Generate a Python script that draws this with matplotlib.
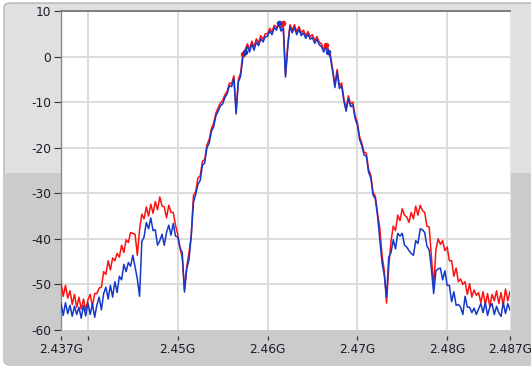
import matplotlib
matplotlib.use("Agg")
import matplotlib.pyplot as plt
import numpy as np
from matplotlib.patches import FancyBboxPatch, Rectangle

plt.rcParams["axes.unicode_minus"] = False
plt.rcParams["font.family"] = "DejaVu Sans"

# sweep: 2.437 GHz .. 2.487 GHz, one bin every 0.25 MHz
F_START = 2.437e9
F_STOP = 2.487e9
N_BINS = 201

# one row per MHz (4 bins each), last value is 2.487 GHz
BLUE_DB = [
    -54.2, -56.8, -54.0, -56.4,
    -54.6, -57.0, -54.8, -56.6,
    -55.0, -57.4, -54.6, -56.9,
    -54.1, -56.6, -54.3, -57.2,
    -54.5, -52.8, -55.6, -52.0,
    -50.6, -53.2, -50.2, -52.8,
    -49.4, -51.8, -48.2, -49.0,
    -45.6, -47.2, -45.2, -46.0,
    -43.6, -46.2, -48.8, -52.6,
    -40.6, -39.6, -36.4, -37.8,
    -35.4, -38.2, -38.0, -41.4,
    -40.4, -39.0, -41.4, -38.6,
    -37.0, -39.2, -36.6, -39.4,
    -39.6, -42.0, -43.0, -51.7,
    -46.5, -44.6, -39.4, -32.0,
    -30.2, -28.0, -27.2, -23.8,
    -23.4, -20.0, -19.0, -16.4,
    -15.4, -13.0, -12.0, -10.8,
    -10.4, -9.0, -8.2, -6.4,
    -6.6, -4.8, -12.6, -5.6,
    -4.3, -0.2, 0.9, 2.2,
    1.0, 2.8, 1.4, 3.2,
    2.4, 3.9, 3.2, 4.4,
    4.4, 5.6, 4.8, 6.4,
    5.8, 7.3, 5.6, 6.2,
    -4.5, 2.0, 6.6, 5.2,
    6.4, 4.8, 6.0, 4.6,
    5.2, 4.0, 4.9, 3.8,
    4.2, 2.9, 3.8, 2.6,
    2.2, 1.0, 1.9, 1.1,
    -0.2, -3.3, -6.8, -3.4,
    -7.0, -6.4, -9.8, -12.0,
    -9.2, -11.0, -10.6, -13.6,
    -15.0, -18.2, -19.6, -21.6,
    -21.8, -25.4, -26.6, -30.4,
    -31.2, -35.0, -40.2, -45.2,
    -48.0, -52.8, -44.0, -43.0,
    -40.2, -42.2, -38.8, -39.4,
    -38.8, -41.4, -41.8, -42.6,
    -43.2, -43.6, -40.4, -41.0,
    -37.8, -38.0, -38.6, -41.6,
    -42.4, -46.6, -52.0, -47.0,
    -46.6, -46.4, -49.0, -47.0,
    -50.2, -50.2, -53.8, -51.6,
    -54.6, -54.4, -55.0, -56.6,
    -52.6, -55.0, -55.0, -56.2,
    -55.2, -56.6, -55.4, -54.2,
    -56.2, -54.0, -56.8, -55.0,
    -54.2, -56.6, -54.8, -56.2,
    -57.0, -54.0, -56.4, -54.2,
    -55.6,
]

RED_DB = [
    -49.6, -52.6, -50.2, -53.0,
    -51.4, -54.4, -52.2, -55.0,
    -52.8, -55.4, -53.2, -55.6,
    -53.4, -52.2, -54.8, -52.0,
    -52.0, -50.8, -50.6, -47.2,
    -47.8, -44.8, -46.8, -44.2,
    -44.8, -43.2, -44.0, -41.4,
    -43.0, -40.2, -40.8, -38.6,
    -38.8, -39.0, -43.6, -38.0,
    -34.6, -35.6, -33.0, -35.0,
    -32.4, -34.4, -31.8, -33.6,
    -30.8, -32.8, -33.0, -35.4,
    -32.6, -34.2, -34.2, -37.0,
    -39.0, -42.0, -44.2, -51.2,
    -46.1, -43.0, -39.5, -30.5,
    -29.6, -26.6, -26.2, -23.0,
    -22.6, -19.4, -18.2, -15.8,
    -14.6, -12.4, -11.2, -10.2,
    -9.6, -8.4, -7.6, -5.8,
    -6.0, -4.2, -12.0, -5.0,
    -3.6, 0.5, 1.5, 2.8,
    1.6, 3.4, 2.0, 3.9,
    3.0, 4.6, 3.8, 5.0,
    5.0, 6.2, 5.4, 6.9,
    6.4, 7.0, 6.2, 7.3,
    -4.0, 2.6, 7.0, 5.8,
    7.0, 5.4, 6.6, 5.2,
    5.8, 4.6, 5.5, 4.4,
    4.8, 3.5, 4.4, 3.2,
    2.8, 1.6, 2.5, 1.7,
    0.4, -2.8, -6.2, -2.8,
    -6.4, -5.8, -9.2, -11.5,
    -8.6, -10.4, -10.0, -13.0,
    -14.4, -17.6, -19.0, -21.0,
    -21.2, -24.8, -26.0, -29.8,
    -30.6, -34.4, -37.6, -43.6,
    -47.0, -54.1, -46.0, -40.6,
    -37.2, -38.2, -34.8, -36.0,
    -33.4, -34.8, -35.2, -36.4,
    -34.2, -35.6, -32.8, -34.8,
    -32.6, -33.8, -34.2, -37.2,
    -37.4, -44.0, -50.5, -42.4,
    -40.0, -41.2, -40.4, -42.6,
    -41.8, -44.8, -44.8, -48.2,
    -46.4, -49.4, -48.8, -50.0,
    -49.4, -52.2, -49.8, -52.8,
    -51.2, -52.4, -51.8, -54.0,
    -51.6, -54.4, -52.0, -54.8,
    -52.2, -53.6, -51.4, -54.2,
    -51.8, -54.6, -51.0, -53.6,
    -51.6,
]

# bins where the graph shows the bigger dots
BLUE_DOTS = [82, 97, 119]
RED_DOTS = [81, 99, 118]

X_TICKS = [2.437e9, 2.44e9, 2.45e9, 2.46e9, 2.47e9, 2.48e9, 2.487e9]
X_LABELS = ["2.437G", "", "2.45G", "2.46G", "2.47G", "2.48G", "2.487G"]
X_GRID = [2.44e9, 2.45e9, 2.46e9, 2.47e9, 2.48e9]
Y_TICKS = [10, 0, -10, -20, -30, -40, -50, -60]

assert len(BLUE_DB) == N_BINS and len(RED_DB) == N_BINS

freq = np.linspace(F_START, F_STOP, N_BINS)

W, H = 531, 367
fig = plt.figure(figsize=(W / 100, H / 100), dpi=100)
fig.patch.set_facecolor("white")

# panel frame with the two-tone background (behind the axes)
frame = FancyBboxPatch(
    (4 / W, 2 / H), 1.05 - 4 / W, 1 - 5 / H,
    boxstyle="round,pad=0,rounding_size=0.012",
    transform=fig.transFigure, facecolor="#e0e0e0",
    edgecolor="#a4a4a4", linewidth=0.8, zorder=-3,
)
fig.patches.append(frame)
lower = Rectangle((0, 0), 1, 1 - 173 / H, transform=fig.transFigure,
                  facecolor="#cbcbcb", edgecolor="none", zorder=-2)
lower.set_clip_path(frame)
fig.patches.append(lower)

ax = fig.add_axes([61 / W, 1 - 330 / H, (510 - 61) / W, (330 - 11) / H])
ax.set_facecolor("white")

ax.plot(freq, RED_DB, color="#ff1010", linewidth=1.1, zorder=3,
        marker="o", markevery=RED_DOTS, markersize=4, markeredgewidth=0)
ax.plot(freq, BLUE_DB, color="#1538c8", linewidth=1.1, zorder=4,
        marker="o", markevery=BLUE_DOTS, markersize=4, markeredgewidth=0)

ax.set_xlim(F_START, F_STOP)
ax.set_ylim(-60, 10)

for gx in X_GRID:
    ax.axvline(gx, color="#dcdcdc", linewidth=1.4, zorder=1)
for gy in Y_TICKS[1:-1]:
    ax.axhline(gy, color="#dcdcdc", linewidth=1.4, zorder=1)

ax.set_xticks(X_TICKS)
ax.set_xticklabels(X_LABELS)
ax.set_yticks(Y_TICKS)
ax.set_yticklabels([str(v) for v in Y_TICKS])

ax.spines["top"].set_color("#7c7c7c")
ax.spines["top"].set_linewidth(1.4)
ax.spines["left"].set_color("#8a8a8a")
ax.spines["left"].set_linewidth(1.0)
ax.spines["right"].set_color("#e6e6e6")
ax.spines["right"].set_linewidth(0.8)
ax.spines["bottom"].set_position(("outward", 4.3))
ax.spines["bottom"].set_visible(False)

ax.tick_params(axis="y", direction="out", length=5, width=0.8,
               color="#333333", pad=2, labelsize=8.8, labelcolor="#1c1c2a")
ax.tick_params(axis="x", direction="out", length=3, width=0.9,
               color="#333333", pad=2, labelsize=8.7, labelcolor="#1c1c2a")

fig.savefig("out.png", dpi=100, facecolor=fig.get_facecolor())
